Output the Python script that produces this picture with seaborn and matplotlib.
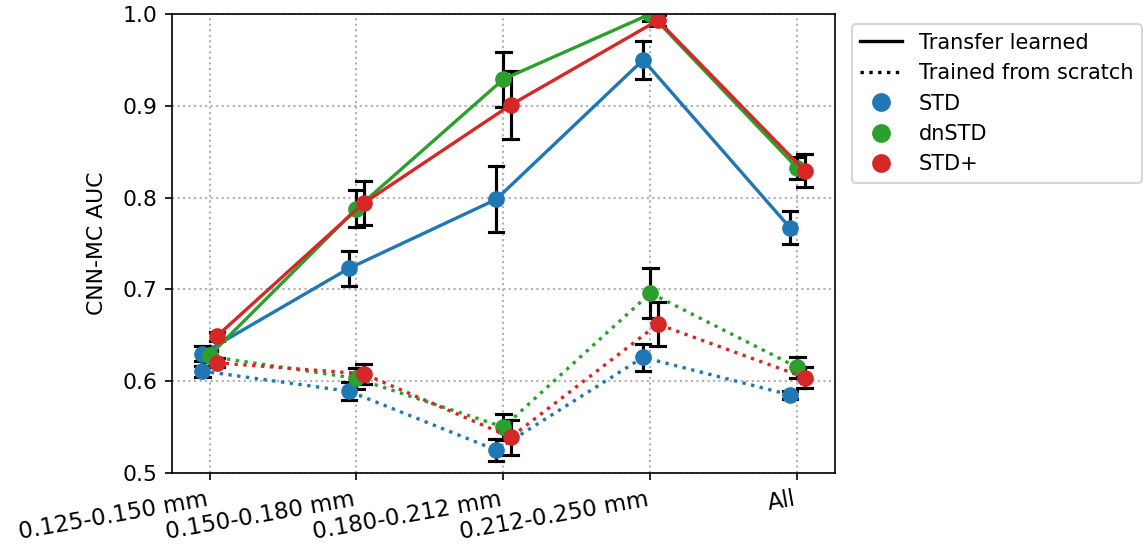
import numpy as np
import pandas as pd
import matplotlib
matplotlib.use("Agg")
import matplotlib.pyplot as plt
from matplotlib.lines import Line2D
import seaborn as sns

plt.rcParams["font.size"] = 10.5

# Grain size bins and preprocessing variants
sizes = ["0.125-0.150 mm", "0.150-0.180 mm", "0.180-0.212 mm", "0.212-0.250 mm", "All"]
variants = ["STD", "dnSTD", "STD+"]
palette = {"STD": "#1f77b4", "dnSTD": "#2ca02c", "STD+": "#d62728"}

# Mean AUC and error half-width, transfer-learned models
transfer_std = [0.630, 0.723, 0.798, 0.950, 0.767]
transfer_dnstd = [0.628, 0.788, 0.929, 1.000, 0.832]
transfer_stdplus = [0.649, 0.794, 0.901, 0.993, 0.829]
transfer_std_err = [0.008, 0.019, 0.036, 0.021, 0.018]
transfer_dnstd_err = [0.006, 0.020, 0.030, 0.008, 0.012]
transfer_stdplus_err = [0.005, 0.024, 0.037, 0.006, 0.018]

# Mean AUC and error half-width, models trained from scratch
scratch_std = [0.611, 0.589, 0.525, 0.626, 0.585]
scratch_dnstd = [0.627, 0.603, 0.550, 0.696, 0.615]
scratch_stdplus = [0.620, 0.608, 0.539, 0.662, 0.604]
scratch_std_err = [0.006, 0.010, 0.012, 0.015, 0.004]
scratch_dnstd_err = [0.006, 0.011, 0.014, 0.027, 0.011]
scratch_stdplus_err = [0.005, 0.011, 0.019, 0.024, 0.011]


def long_frame(means, errs):
    """Two rows per point (mean - err, mean + err) so seaborn can
    aggregate the mean and the min/max interval itself."""
    rows = []
    for var, m_list, e_list in zip(variants, means, errs):
        for size, m, e in zip(sizes, m_list, e_list):
            rows.append({"size": size, "variant": var, "auc": m - e})
            rows.append({"size": size, "variant": var, "auc": m + e})
    return pd.DataFrame(rows)


transfer_df = long_frame([transfer_std, transfer_dnstd, transfer_stdplus],
                         [transfer_std_err, transfer_dnstd_err, transfer_stdplus_err])
scratch_df = long_frame([scratch_std, scratch_dnstd, scratch_stdplus],
                        [scratch_std_err, scratch_dnstd_err, scratch_stdplus_err])

fig = plt.figure(figsize=(1143 / 150, 548 / 150), dpi=150)
ax = fig.add_axes([0.1505, 0.1369, 0.58, 0.8376])

# Error bars sit just beneath the point markers
common = dict(x="size", y="auc", hue="variant", order=sizes, hue_order=variants,
              palette=palette, estimator="mean",
              errorbar=lambda v: (v.min(), v.max()),
              dodge=0.1, capsize=0.1,
              err_kws={"color": "black", "linewidth": 1.5, "zorder": 1.9},
              linewidth=1.6, markersize=8, markeredgewidth=0,
              legend=False, ax=ax)

sns.pointplot(data=transfer_df, linestyles="-", **common)
sns.pointplot(data=scratch_df, linestyles=":", **common)

ax.set_xlim(-0.255, 4.255)
ax.set_ylim(0.5, 1.0)
ax.set_yticks(np.arange(0.5, 1.01, 0.1))
ax.set_xlabel("")
ax.set_ylabel("CNN-MC AUC", labelpad=7.5)
ax.grid(True, linestyle=":", color="#b0b0b0", linewidth=1.0)
ax.set_axisbelow(True)
for sp in ax.spines.values():
    sp.set_visible(True)
    sp.set_color("black")
plt.setp(ax.get_xticklabels(), rotation=10, ha="right", fontsize=11)

handles = [
    Line2D([], [], color="black", linestyle="-", linewidth=1.6),
    Line2D([], [], color="black", linestyle=":", linewidth=1.6),
] + [Line2D([], [], color=palette[v], marker="o", linestyle="none", markersize=8)
     for v in variants]
labels = ["Transfer learned", "Trained from scratch"] + variants
ax.legend(handles, labels, loc="upper left", bbox_to_anchor=(1.01, 1.0), fontsize=10)

fig.savefig("out.png", dpi=150)
